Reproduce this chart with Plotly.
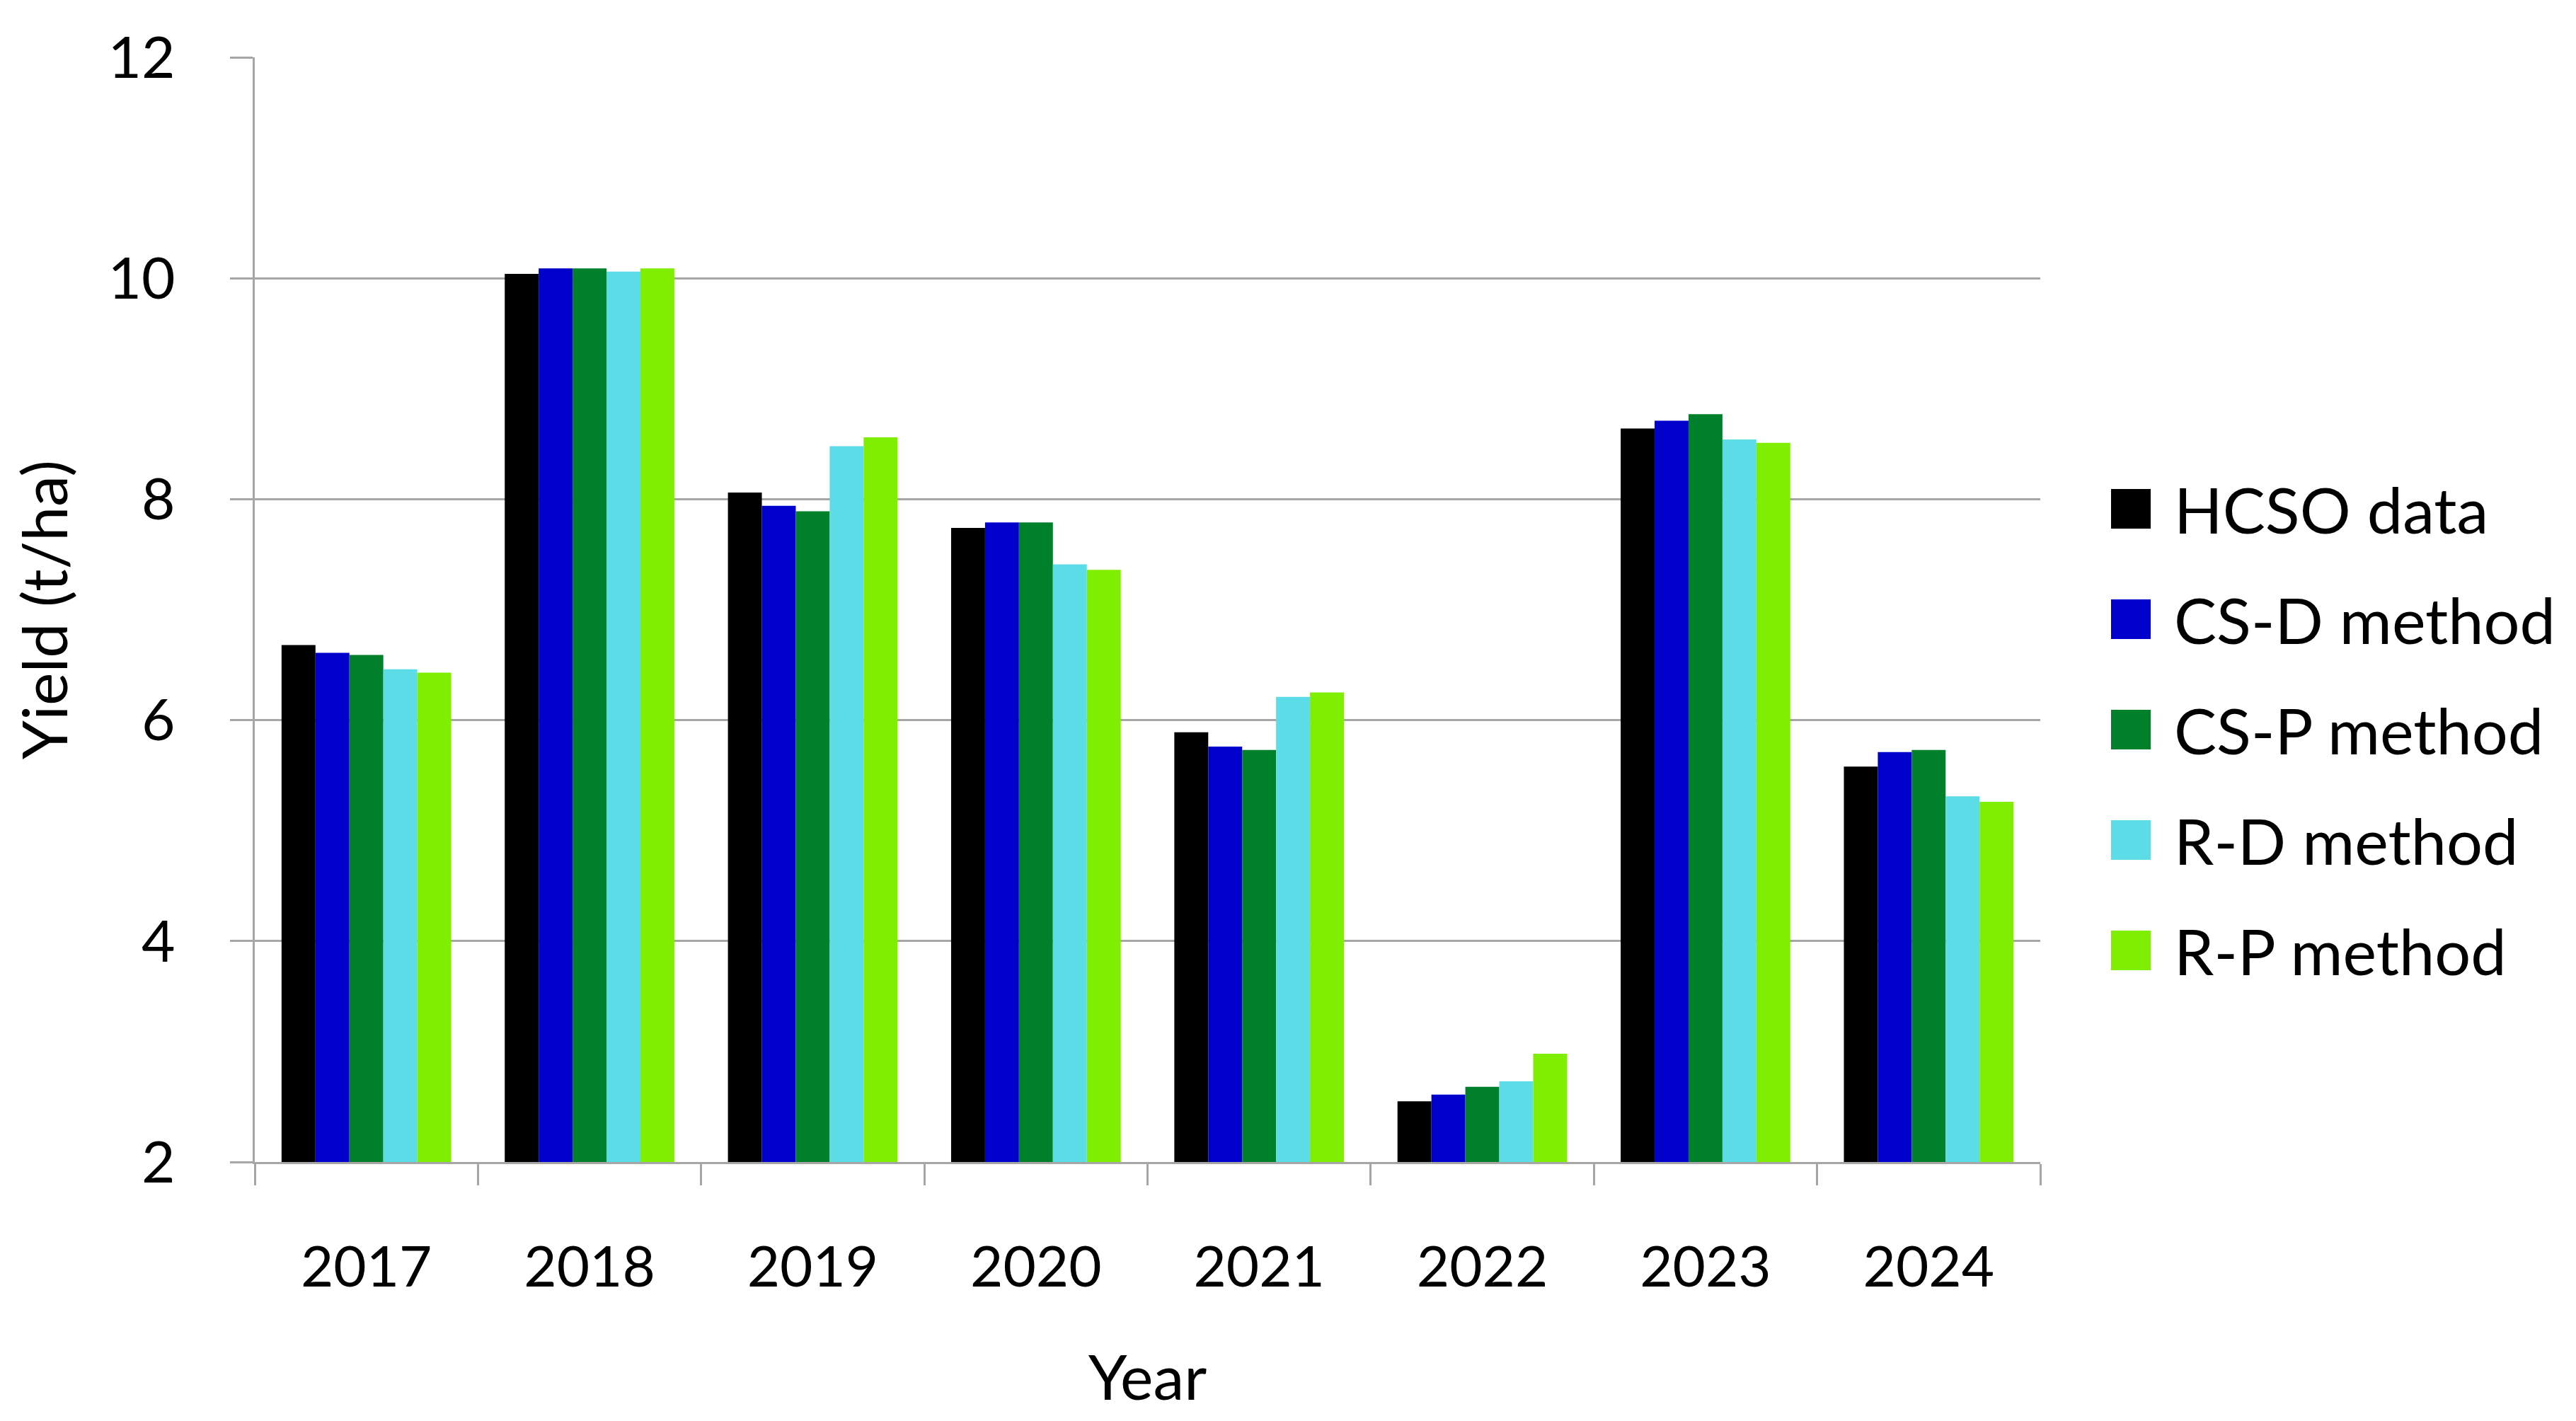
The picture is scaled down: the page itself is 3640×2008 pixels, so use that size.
import plotly.graph_objects as go

# ---- data ----
years = ["2017", "2018", "2019", "2020", "2021", "2022", "2023", "2024"]
hcso_data = [6.68, 10.04, 8.06, 7.74, 5.89, 2.55, 8.64, 5.58]
cs_d_method = [6.61, 10.09, 7.94, 7.79, 5.76, 2.61, 8.71, 5.71]
cs_p_method = [6.59, 10.09, 7.89, 7.79, 5.73, 2.68, 8.77, 5.73]
r_d_method = [6.46, 10.06, 8.48, 7.41, 6.21, 2.73, 8.54, 5.31]
r_p_method = [6.43, 10.09, 8.56, 7.36, 6.25, 2.98, 8.51, 5.26]
series_names = ["HCSO data", "CS-D method", "CS-P method", "R-D method", "R-P method"]
y_ticks = [2, 4, 6, 8, 10, 12]
x_title = "Year"
y_title = "Yield (t/ha)"

# ---- styling ----
colors = ["#000000", "#0000CC", "#00802B", "#5CDCE6", "#80EE00"]
FONT = "Lato, Carlito, Calibri, sans-serif"
GRID = "#A6A6A6"
OFF = 8                      # default page body margin
PAGE_W, PAGE_H = 3640, 2008
W, H = PAGE_W - 2 * OFF, PAGE_H - 2 * OFF
# plot area in page pixels
PX0, PX1, PY0, PY1 = 360, 2883, 81, 1642
L, T = PX0 - OFF, PY0 - OFF
R, B = W - (PX1 - OFF), H - (PY1 - OFF)
PW, PH = PX1 - PX0, PY1 - PY0

series = [hcso_data, cs_d_method, cs_p_method, r_d_method, r_p_method]

fig = go.Figure()
for name, vals, col in zip(series_names, series, colors):
    fig.add_trace(go.Bar(x=years, y=vals, name=name, marker_color=col,
                         marker_line_width=0, showlegend=False))

# custom legend (large square swatches like the original)
def px_x(p):
    return (p - PX0) / PW

def px_y(p):
    return (PY1 - p) / PH

leg_y0, leg_dy, sw = 719, 156, 56
sw_x0, txt_x = 2983, 3070
for i, (name, col) in enumerate(zip(series_names, colors)):
    cy = leg_y0 + leg_dy * i
    fig.add_shape(type="rect", xref="paper", yref="paper",
                  x0=px_x(sw_x0), x1=px_x(sw_x0 + sw),
                  y0=px_y(cy + sw / 2), y1=px_y(cy - sw / 2),
                  fillcolor=col, line_width=0)
    fig.add_annotation(xref="paper", yref="paper", x=px_x(txt_x), y=px_y(cy),
                       xanchor="left", yanchor="middle", text=name,
                       showarrow=False, font=dict(family=FONT, size=90, color="#000000"))

fig.update_layout(
    width=W, height=H,
    margin=dict(l=L, r=R, t=T, b=B, pad=0),
    paper_bgcolor="#FFFFFF", plot_bgcolor="#FFFFFF",
    barmode="group", bargap=0.24, bargroupgap=0.0,
    font=dict(family=FONT, size=80, color="#000000"),
    showlegend=False,
)
fig.update_xaxes(
    type="category", tickson="boundaries", ticks="outside", ticklen=30,
    tickwidth=3, tickcolor=GRID, showline=True, linecolor=GRID, linewidth=3,
    showgrid=False, tickfont=dict(family=FONT, size=80, color="#000000"),
    ticklabelstandoff=77,
    title=dict(text=x_title, font=dict(family=FONT, size=88, color="#000000"), standoff=83),
)
fig.update_yaxes(
    range=[2, 12], tickvals=y_ticks, ticks="outside", ticklen=32, tickwidth=3,
    tickcolor=GRID, showline=True, linecolor=GRID, linewidth=3,
    showgrid=True, gridcolor=GRID, gridwidth=3, zeroline=False,
    tickfont=dict(family=FONT, size=82, color="#000000"),
    ticklabelstandoff=61,
    title=dict(text=y_title, font=dict(family=FONT, size=88, color="#000000"), standoff=40),
)

fig.write_html("out.html")
